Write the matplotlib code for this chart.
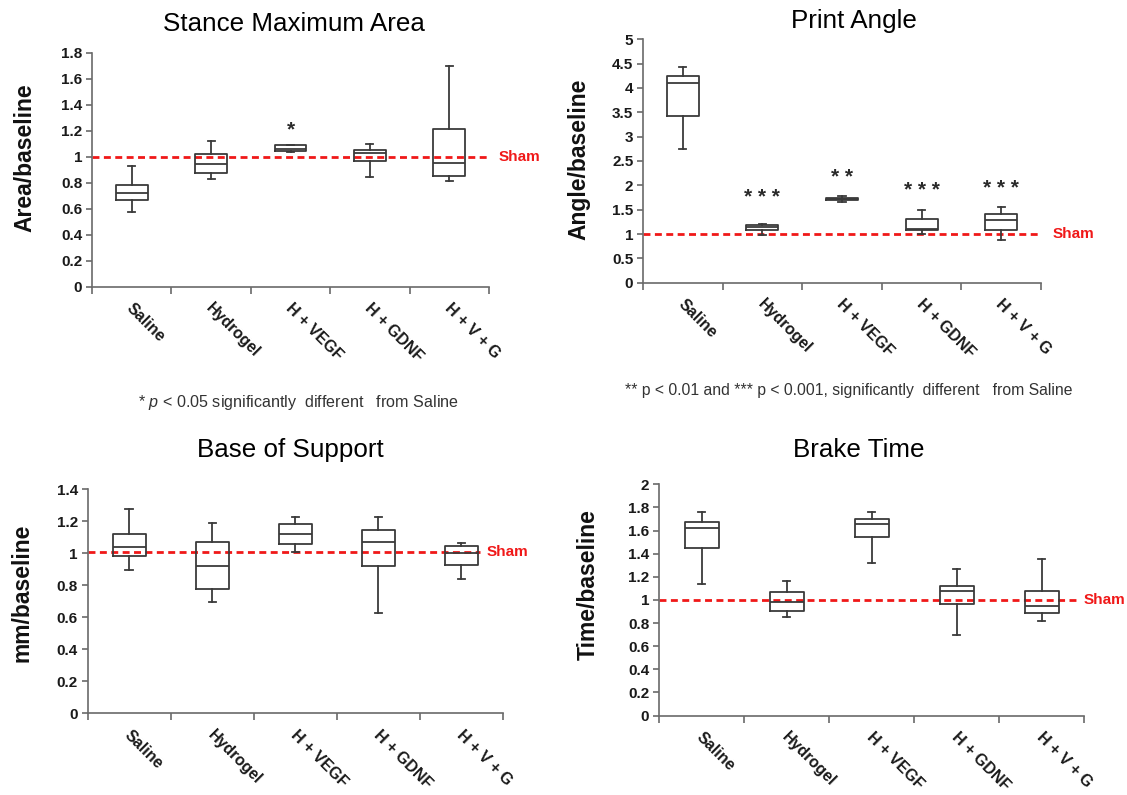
import matplotlib
matplotlib.use("Agg")
import matplotlib.pyplot as plt
from matplotlib.transforms import blended_transform_factory


GROUPS = ["Saline", "Hydrogel", "H + VEGF", "H + GDNF", "H + V + G"]

# Stance Maximum Area (area / baseline)
area_low = [0.577, 0.833, 1.040, 0.846, 0.813]
area_q1 = [0.667, 0.877, 1.046, 0.970, 0.854]
area_med = [0.725, 0.944, 1.064, 1.030, 0.956]
area_q3 = [0.780, 1.025, 1.090, 1.056, 1.210]
area_high = [0.930, 1.120, 1.090, 1.100, 1.700]
area_stars = ["", "", "*", "", ""]
area_star_y = [0, 0, 1.25, 0, 0]

# Print Angle (angle / baseline)
angle_low = [2.75, 0.97, 1.66, 1.01, 0.88]
angle_q1 = [3.42, 1.08, 1.69, 1.08, 1.08]
angle_med = [4.11, 1.15, 1.72, 1.11, 1.28]
angle_q3 = [4.25, 1.19, 1.75, 1.31, 1.41]
angle_high = [4.44, 1.21, 1.78, 1.50, 1.55]
angle_stars = ["", "* * *", "* *", "* * *", "* * *"]
angle_star_y = [0, 1.87, 2.28, 2.00, 2.05]

# Base of Support (mm / baseline)
support_low = [0.897, 0.695, 1.008, 0.628, 0.839]
support_q1 = [0.983, 0.780, 1.056, 0.923, 0.925]
support_med = [1.040, 0.918, 1.123, 1.071, 1.004]
support_q3 = [1.120, 1.073, 1.182, 1.144, 1.048]
support_high = [1.280, 1.190, 1.224, 1.230, 1.063]

# Brake Time (time / baseline)
brake_low = [1.135, 0.850, 1.323, 0.697, 0.818]
brake_q1 = [1.452, 0.908, 1.542, 0.963, 0.890]
brake_med = [1.625, 0.986, 1.657, 1.081, 0.948]
brake_q3 = [1.671, 1.069, 1.703, 1.124, 1.078]
brake_high = [1.764, 1.167, 1.758, 1.268, 1.354]

SHAM = [1.0, 1.0, 1.01, 1.0]

plt.rcParams["font.family"] = ["Liberation Sans", "DejaVu Sans"]
plt.rcParams["mathtext.fontset"] = "custom"
plt.rcParams["mathtext.rm"] = "Liberation Sans"
plt.rcParams["mathtext.it"] = "Liberation Sans:italic"

LINE = "#3a3a3a"
SPINE = "#6a6a6a"
RED = "#f01818"
W, H = 1127, 795


def make_stats(low, q1, med, q3, high):
    return [
        dict(whislo=a, q1=b, med=c, q3=d, whishi=e, fliers=[])
        for a, b, c, d, e in zip(low, q1, med, q3, high)
    ]


def px_axes(fig, left, right, bottom, top):
    return fig.add_axes([left / W, 1 - bottom / H, (right - left) / W, (bottom - top) / H])


def draw_panel(ax, stats, ymax, ystep, sham, sham_x, line_end):
    lp = dict(color=LINE, linewidth=1.3)
    ax.bxp(stats, positions=range(1, 6), widths=0.4, capwidths=0.09,
           showfliers=False, manage_ticks=False,
           boxprops=lp, medianprops=lp, whiskerprops=lp, capprops=lp)

    ax.set_xlim(0.5, 5.5)
    ax.set_ylim(0, ymax)
    n = int(round(ymax / ystep))
    ticks = [round(i * ystep, 3) for i in range(n + 1)]
    ax.set_yticks(ticks, [f"{t:g}" for t in ticks])
    ax.set_xticks([i + 0.5 for i in range(6)], [""] * 6)

    for side in ["top", "right"]:
        ax.spines[side].set_visible(False)
    for side in ["left", "bottom"]:
        ax.spines[side].set_color(SPINE)
        ax.spines[side].set_linewidth(1.2)
    ax.tick_params(axis="y", length=4, width=1.2, color=SPINE,
                   labelsize=11, pad=3, labelcolor="#1a1a1a")
    ax.tick_params(axis="x", length=5, width=1.2, color=SPINE)
    for lab in ax.get_yticklabels():
        lab.set_fontweight("bold")

    trans = blended_transform_factory(ax.transData, ax.transAxes)
    for i, name in enumerate(GROUPS):
        ax.annotate(name, xy=(i + 1, 0), xycoords=trans,
                    xytext=(2, -10), textcoords="offset points",
                    rotation=-45, rotation_mode="anchor", ha="left", va="top",
                    fontsize=11.5, fontweight="bold", color="#1a1a1a")

    ax.axhline(sham, xmin=0, xmax=line_end, color=RED, linewidth=2,
               linestyle=(0, (2.5, 1.6)), zorder=1)
    strans = blended_transform_factory(ax.transAxes, ax.transData)
    ax.text(sham_x, sham, "Sham", transform=strans, ha="left", va="center",
            color=RED, fontsize=11, fontweight="bold", clip_on=False)


def add_stars(ax, stars, ys):
    for i, (s, y) in enumerate(zip(stars, ys)):
        if s:
            ax.annotate(s, xy=(i + 1, y), xytext=(0, -8), textcoords="offset points",
                        ha="center", va="baseline", fontsize=15, fontweight="bold",
                        color="#2a2a2a")


def main():
    fig = plt.figure(figsize=(11.27, 7.95), dpi=100)

    ax1 = px_axes(fig, 92, 489, 287, 52.7)
    draw_panel(ax1, make_stats(area_low, area_q1, area_med, area_q3, area_high),
               1.8, 0.2, SHAM[0], 1.023, 1.0)
    add_stars(ax1, area_stars, area_star_y)

    ax2 = px_axes(fig, 643, 1041, 282.7, 39.3)
    draw_panel(ax2, make_stats(angle_low, angle_q1, angle_med, angle_q3, angle_high),
               5, 0.5, SHAM[1], 1.03, 1.0)
    add_stars(ax2, angle_stars, angle_star_y)

    ax3 = px_axes(fig, 87.7, 503, 713.3, 489.3)
    draw_panel(ax3, make_stats(support_low, support_q1, support_med, support_q3, support_high),
               1.4, 0.2, SHAM[2], 0.96, 0.945)

    ax4 = px_axes(fig, 659, 1084, 715.5, 484.3)
    draw_panel(ax4, make_stats(brake_low, brake_q1, brake_med, brake_q3, brake_high),
               2, 0.2, SHAM[3], 0.998, 0.99)

    titles = [("Stance Maximum Area", 294, 24), ("Print Angle", 854, 21),
              ("Base of Support", 290, 450), ("Brake Time", 859, 450)]
    for text, x, y in titles:
        fig.text(x / W, 1 - y / H, text, ha="center", va="center", fontsize=18.7)

    ylabels = [("Area/baseline", 25, 158), ("Angle/baseline", 579, 159),
               ("mm/baseline", 22, 593), ("Time/baseline", 588, 585)]
    for text, x, y in ylabels:
        fig.text(x / W, 1 - y / H, text, ha="center", va="center", rotation=90,
                 fontsize=16.5, fontweight="bold", color="#111111")

    fig.text(298 / W, 1 - 402 / H, r"* $p$ < 0.05 significantly  different   from Saline",
             ha="center", va="center", fontsize=11.6, color="#333333")
    fig.text(849 / W, 1 - 390 / H,
             "** p < 0.01 and *** p < 0.001, significantly  different   from Saline",
             ha="center", va="center", fontsize=11.3, color="#333333")

    fig.savefig("out.png", dpi=100, facecolor="white")


if __name__ == "__main__":
    main()
